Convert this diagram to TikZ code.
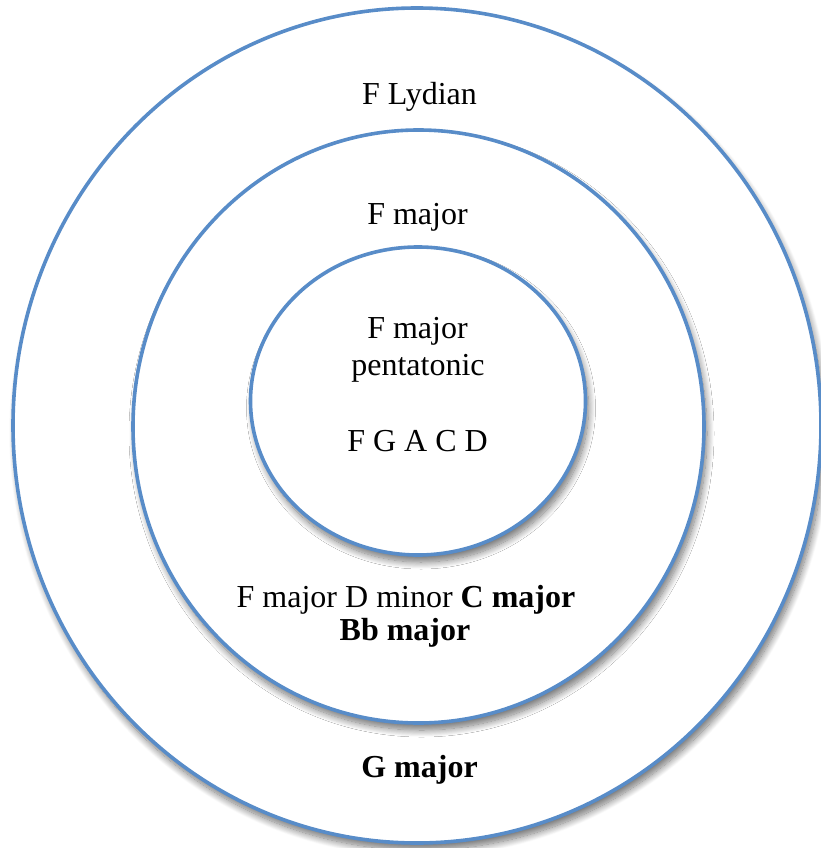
\documentclass[tikz,border=0pt]{standalone}
\usepackage{fontspec}
\setmainfont{Liberation Serif}
\usetikzlibrary{shadows.blur}

\definecolor{ringblue}{RGB}{88,140,200}

\tikzset{
  ring/.style={draw=ringblue, line width=3.6pt, fill=white,
    blur shadow={shadow xshift=3pt, shadow yshift=-7pt,
      shadow blur steps=14, shadow blur radius=7pt, shadow opacity=55}},
  label/.style={anchor=base, inner sep=0pt, font=\fontsize{32}{38}\selectfont}
}

\begin{document}
\begin{tikzpicture}[x=1pt, y=-1pt]
  \useasboundingbox (0,0) rectangle (820,848);

  % three nested rings
  \path[ring] (417,425.5) ellipse [x radius=404, y radius=417.5];
  \path[ring] (418.5,426.5) ellipse [x radius=285.5, y radius=296.5];
  \path[ring] (418,401) ellipse [x radius=167.5, y radius=154];

  % outer ring
  \node[label] (lydian) at (419.5,105) {F Lydian};
  \node[label] (gmaj) at (419.5,777) {\textbf{G major}};

  % middle ring
  \node[label] (fmaj) at (417.5,224) {F major};
  \node[label] (chords1) at (406,607) {F major D minor \textbf{C major}};
  \node[label] (chords2) at (405,640) {\textbf{Bb major}};

  % inner ring
  \node[label] (pent1) at (417.5,338) {F major};
  \node[label] (pent2) at (418,375) {pentatonic};
  \node[label] (notes) at (417.5,451) {F G A C D};
\end{tikzpicture}
\end{document}
